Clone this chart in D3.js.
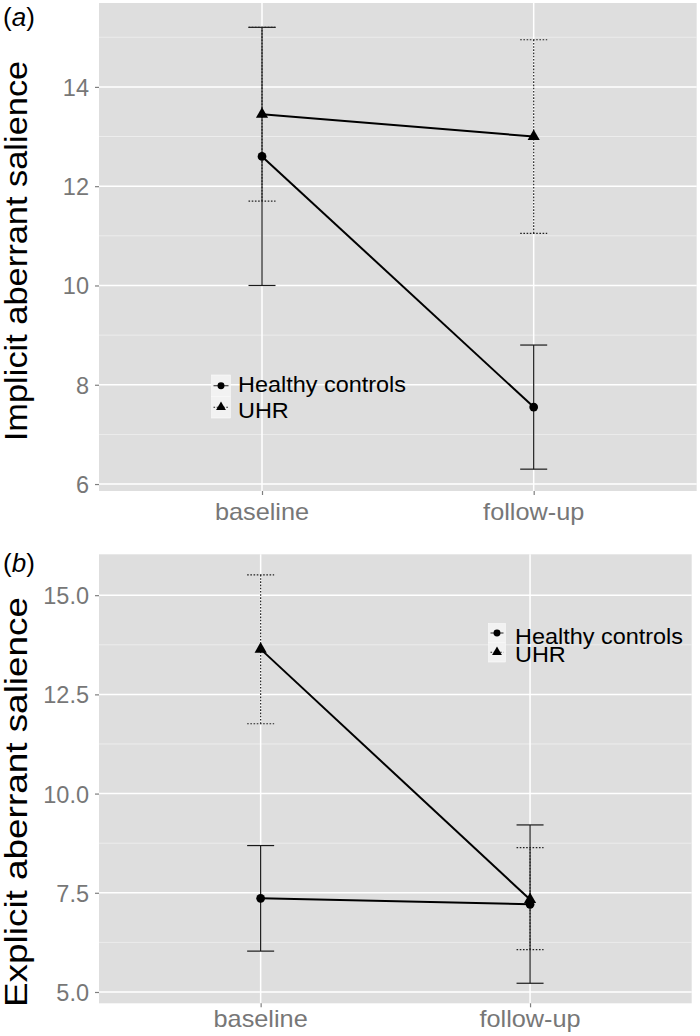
<!DOCTYPE html>
<html><head><meta charset="utf-8">
<script src="https://cdn.jsdelivr.net/npm/d3@7"></script>
<style>body{margin:0;background:#fff}</style></head>
<body>
<svg id="c" width="700" height="1036"></svg>
<script>
// ---------- data ----------
const timepoints = ["baseline", "follow-up"];
const groups = ["Healthy controls", "UHR"];

// (a) implicit aberrant salience
const implicitHC     = [12.6, 7.55];
const implicitHCLow  = [10.0, 6.3];
const implicitHCHigh = [15.2, 8.8];
const implicitUHR     = [13.45, 13.0];
const implicitUHRLow  = [11.7, 11.05];
const implicitUHRHigh = [15.2, 14.95];
const implicitTicks = [6, 8, 10, 12, 14];

// (b) explicit aberrant salience
const explicitHC     = [7.36, 7.21];
const explicitHCLow  = [6.03, 5.22];
const explicitHCHigh = [8.69, 9.21];
const explicitUHR     = [13.64, 7.33];
const explicitUHRLow  = [11.76, 6.07];
const explicitUHRHigh = [15.51, 8.64];
const explicitTicks = [5, 7.5, 10, 12.5, 15];

// ---------- drawing ----------
const FONT = "'Liberation Sans', Arial, Helvetica, sans-serif";
const svg = d3.select("#c");

function txt(g, x, y, s, o) {
  return g.append("text")
    .attr("transform", `translate(${x},${y}) rotate(${o.rot || 0}) scale(${o.sx || 1},1)`)
    .attr("text-anchor", o.anchor || "start")
    .attr("font-size", o.size)
    .attr("font-family", FONT)
    .attr("fill", o.fill || "#000")
    .text(s);
}

function panel(cfg) {
  const g = svg.append("g");
  const x = d3.scalePoint().domain(timepoints).range([cfg.left, cfg.right]).padding(0.6);
  const y = d3.scaleLinear().domain(cfg.domain).range([cfg.bottom, cfg.top]);

  // background
  g.append("rect").attr("x", cfg.left).attr("y", cfg.top)
    .attr("width", cfg.right - cfg.left).attr("height", cfg.bottom - cfg.top)
    .attr("fill", "#dedede");

  // minor grid
  const step = cfg.ticks[1] - cfg.ticks[0];
  const minor = [cfg.ticks[0] - step / 2, ...d3.pairs(cfg.ticks).map(p => (p[0] + p[1]) / 2),
                 cfg.ticks[cfg.ticks.length - 1] + step / 2]
    .filter(v => v > cfg.domain[0] && v < cfg.domain[1]);
  g.selectAll(".mn").data(minor).join("line")
    .attr("x1", cfg.left).attr("x2", cfg.right)
    .attr("y1", d => y(d)).attr("y2", d => y(d))
    .attr("stroke", "#f0f0f0").attr("stroke-width", 0.8);
  // major grid
  g.selectAll(".mj").data(cfg.ticks).join("line")
    .attr("x1", cfg.left).attr("x2", cfg.right)
    .attr("y1", d => y(d)).attr("y2", d => y(d))
    .attr("stroke", "#fff").attr("stroke-width", 1.5);
  g.selectAll(".mx").data(timepoints).join("line")
    .attr("x1", d => x(d)).attr("x2", d => x(d))
    .attr("y1", cfg.top).attr("y2", cfg.bottom)
    .attr("stroke", "#fff").attr("stroke-width", 1.5);

  // axes
  const ya = g.append("g").attr("transform", `translate(${cfg.left},0)`)
    .call(d3.axisLeft(y).tickValues(cfg.ticks).tickFormat(cfg.fmt).tickSize(4).tickPadding(6));
  ya.select(".domain").remove();
  ya.selectAll("line").attr("stroke", "#7f7f7f").attr("stroke-width", 1.2);
  ya.selectAll("text").attr("font-size", 23.5).attr("font-family", FONT).attr("fill", "#777")
    .attr("dy", "0.36em");

  const xa = g.append("g").attr("transform", `translate(0,${cfg.bottom})`)
    .call(d3.axisBottom(x).tickSize(4).tickFormat(() => ""));
  xa.select(".domain").remove();
  xa.selectAll("line").attr("stroke", "#7f7f7f").attr("stroke-width", 1.2);
  timepoints.forEach(t => txt(g, x(t), cfg.xLabelY, t, {size: 23, sx: 1.1, anchor: "middle", fill: "#777"}));

  // series
  const series = [
    {name: groups[0], m: cfg.hc, lo: cfg.hcLo, hi: cfg.hcHi, dash: null, shape: "circle"},
    {name: groups[1], m: cfg.uhr, lo: cfg.uhrLo, hi: cfg.uhrHi, dash: "1.6,1.6", shape: "triangle"}
  ];
  const cap = 13.5;
  series.forEach(s => {
    const eb = g.append("g");
    timepoints.forEach((t, i) => {
      const cx = x(t);
      const col = s.dash ? "#222" : "#1a1a1a";
      eb.append("line").attr("x1", cx).attr("x2", cx).attr("y1", y(s.lo[i])).attr("y2", y(s.hi[i]))
        .attr("stroke", col).attr("stroke-width", 1.2).attr("stroke-dasharray", s.dash);
      [s.lo[i], s.hi[i]].forEach(v => eb.append("line")
        .attr("x1", cx - cap).attr("x2", cx + cap).attr("y1", y(v)).attr("y2", y(v))
        .attr("stroke", col).attr("stroke-width", 1.2).attr("stroke-dasharray", s.dash));
    });
  });
  const line = d3.line().x((d, i) => x(timepoints[i])).y(d => y(d));
  series.forEach(s => {
    g.append("path").datum(s.m).attr("d", line).attr("fill", "none")
      .attr("stroke", "#000").attr("stroke-width", 2);
  });
  const sym = {circle: d3.symbol(d3.symbolCircle, 60), triangle: d3.symbol(d3.symbolTriangle, 64)};
  series.forEach(s => {
    s.m.forEach((v, i) => g.append("path").attr("d", sym[s.shape]())
      .attr("transform", `translate(${x(timepoints[i])},${y(v)})`).attr("fill", "#000"));
  });

  // legend
  const L = cfg.legend;
  groups.forEach((name, i) => {
    const s = series[i];
    const y0 = L.rows[i], y1 = L.rows[i + 1];
    g.append("rect").attr("x", L.x).attr("y", y0).attr("width", L.w).attr("height", y1 - y0)
      .attr("fill", "#f2f2f2").attr("stroke", "#fafafa").attr("stroke-width", 0.6);
    const cy = (y0 + y1) / 2, cx = L.x + L.w / 2;
    g.append("line").attr("x1", L.x + 2).attr("x2", L.x + L.w - 2).attr("y1", cy).attr("y2", cy)
      .attr("stroke", "#222").attr("stroke-width", 1).attr("stroke-dasharray", s.dash);
    g.append("path").attr("d", d3.symbol(s.shape === "circle" ? d3.symbolCircle : d3.symbolTriangle,
        s.shape === "circle" ? 38 : 42)())
      .attr("transform", `translate(${cx},${cy})`).attr("fill", "#000");
    txt(g, L.textX, L.base[i], name, {size: 22, sx: 1.065});
  });

  // y title
  txt(g, 27, cfg.titleY, cfg.title, {size: 31, sx: cfg.titleSx, rot: -90, anchor: "middle"});
  // panel label
  const pl = g.append("text").attr("x", 3).attr("y", cfg.labelY)
    .attr("font-size", 26).attr("font-family", FONT).attr("fill", "#000");
  pl.append("tspan").text("(");
  pl.append("tspan").attr("font-style", "italic").text(cfg.letter);
  pl.append("tspan").text(")");
}

panel({
  top: 3, bottom: 491, left: 99, right: 696.7, domain: [5.86, 15.69],
  ticks: implicitTicks, fmt: d3.format("d"),
  hc: implicitHC, hcLo: implicitHCLow, hcHi: implicitHCHigh,
  uhr: implicitUHR, uhrLo: implicitUHRLow, uhrHi: implicitUHRHigh,
  xLabelY: 520,
  legend: {x: 211.5, w: 19, rows: [375, 396.5, 418], textX: 238, base: [392, 418]},
  title: "Implicit aberrant salience", titleY: 251, titleSx: 1.11,
  letter: "a", labelY: 26
});

panel({
  top: 554.3, bottom: 1003.3, left: 99, right: 691.7, domain: [4.715, 16.03],
  ticks: explicitTicks, fmt: d3.format(".1f"),
  hc: explicitHC, hcLo: explicitHCLow, hcHi: explicitHCHigh,
  uhr: explicitUHR, uhrLo: explicitUHRLow, uhrHi: explicitUHRHigh,
  xLabelY: 1027,
  legend: {x: 488.5, w: 17, rows: [623.5, 642.5, 662], textX: 515, base: [643.5, 661.5]},
  title: "Explicit aberrant salience", titleY: 802, titleSx: 1.19,
  letter: "b", labelY: 572
});
</script>
</body></html>
